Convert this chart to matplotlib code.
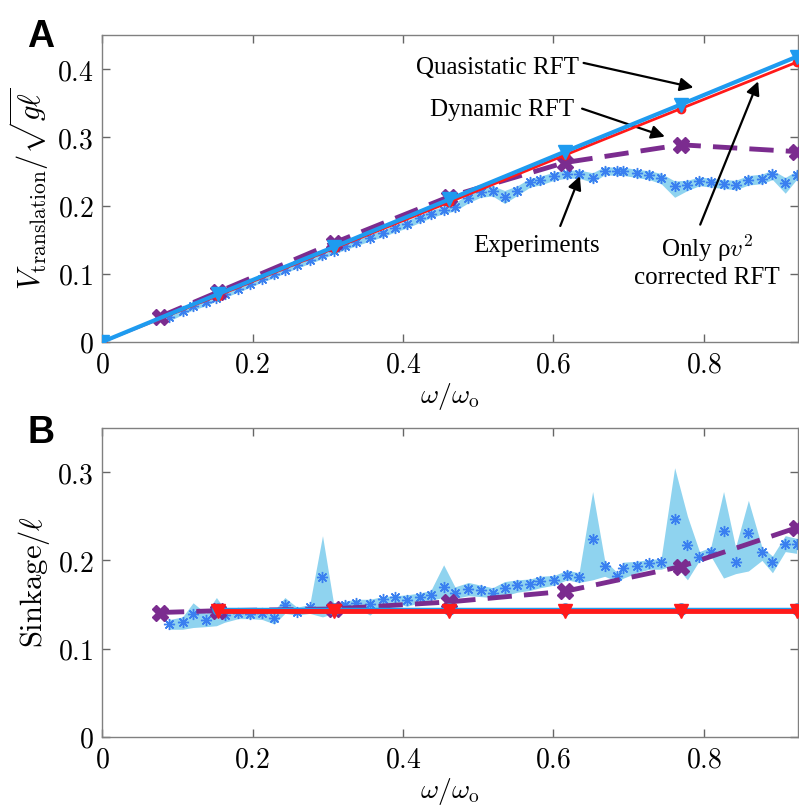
import matplotlib
matplotlib.use('Agg')
import matplotlib.pyplot as plt
from matplotlib.ticker import FuncFormatter

plt.rcParams['mathtext.fontset'] = 'cm'

# model points (omega / omega_o)
w_model = [0.0, 0.1538, 0.3077, 0.4615, 0.6154, 0.7692, 0.9231]
w_dyn = [0.0769, 0.1538, 0.3077, 0.4615, 0.6154, 0.7692, 0.9231]

# panel A: translation speed
v_quasi = [0.0, 0.070, 0.139, 0.209, 0.279, 0.348, 0.418]
v_rho = [0.0, 0.068, 0.137, 0.205, 0.274, 0.342, 0.410]
v_dyn = [0.037, 0.073, 0.145, 0.213, 0.263, 0.289, 0.279]

# panel B: sinkage
w_sink = [0.1538, 0.3077, 0.4615, 0.6154, 0.7692, 0.9231]
s_quasi = [0.1445, 0.1445, 0.1445, 0.1445, 0.1445, 0.1445]
s_rho = [0.143, 0.143, 0.143, 0.143, 0.143, 0.143]
s_dyn = [0.141, 0.143, 0.145, 0.153, 0.165, 0.193, 0.237]

# experiments
w_exp = [0.0895, 0.107, 0.121, 0.138, 0.152, 0.163, 0.181, 0.197, 0.213, 0.229,
         0.243, 0.259, 0.276, 0.293, 0.308, 0.323, 0.338, 0.356, 0.373, 0.389,
         0.405, 0.422, 0.437, 0.454, 0.469, 0.487, 0.503, 0.519, 0.535, 0.552,
         0.569, 0.582, 0.601, 0.618, 0.634, 0.652, 0.668, 0.685, 0.693, 0.711,
         0.727, 0.743, 0.761, 0.778, 0.794, 0.809, 0.826, 0.842, 0.859, 0.877,
         0.891, 0.908, 0.923]
v_exp = [0.036, 0.045, 0.052, 0.058, 0.065, 0.070, 0.078, 0.085, 0.093, 0.099,
         0.106, 0.113, 0.120, 0.127, 0.134, 0.140, 0.146, 0.153, 0.159, 0.167,
         0.173, 0.181, 0.188, 0.194, 0.198, 0.211, 0.220, 0.222, 0.213, 0.222,
         0.234, 0.237, 0.243, 0.246, 0.246, 0.241, 0.251, 0.250, 0.250, 0.247,
         0.245, 0.241, 0.229, 0.230, 0.236, 0.234, 0.232, 0.230, 0.237, 0.239,
         0.246, 0.233, 0.245]
v_exp_lo = [0.031, 0.040, 0.047, 0.053, 0.060, 0.065, 0.073, 0.080, 0.088, 0.094,
            0.101, 0.108, 0.115, 0.122, 0.129, 0.135, 0.141, 0.148, 0.154, 0.161,
            0.167, 0.175, 0.182, 0.188, 0.192, 0.204, 0.212, 0.214, 0.203, 0.215,
            0.227, 0.230, 0.237, 0.240, 0.240, 0.234, 0.245, 0.244, 0.244, 0.241,
            0.238, 0.232, 0.212, 0.222, 0.229, 0.227, 0.225, 0.223, 0.230, 0.232,
            0.238, 0.218, 0.238]
v_exp_hi = [0.041, 0.050, 0.057, 0.063, 0.070, 0.075, 0.083, 0.090, 0.098, 0.104,
            0.111, 0.118, 0.125, 0.132, 0.139, 0.145, 0.151, 0.158, 0.164, 0.172,
            0.178, 0.186, 0.193, 0.199, 0.204, 0.217, 0.226, 0.229, 0.222, 0.229,
            0.240, 0.243, 0.249, 0.252, 0.252, 0.248, 0.257, 0.256, 0.256, 0.253,
            0.251, 0.247, 0.236, 0.237, 0.242, 0.240, 0.238, 0.237, 0.244, 0.246,
            0.252, 0.241, 0.251]
s_exp = [0.128, 0.130, 0.139, 0.133, 0.144, 0.138, 0.141, 0.139, 0.140, 0.135,
         0.150, 0.142, 0.147, 0.181, 0.145, 0.150, 0.152, 0.151, 0.156, 0.158,
         0.155, 0.159, 0.161, 0.170, 0.163, 0.168, 0.166, 0.163, 0.169, 0.172,
         0.173, 0.177, 0.178, 0.184, 0.181, 0.224, 0.194, 0.182, 0.191, 0.194,
         0.197, 0.198, 0.247, 0.217, 0.204, 0.210, 0.233, 0.198, 0.231, 0.209,
         0.198, 0.219, 0.219]
s_exp_lo = [0.122, 0.122, 0.124, 0.125, 0.126, 0.130, 0.134, 0.134, 0.133, 0.128,
            0.140, 0.138, 0.140, 0.136, 0.140, 0.145, 0.147, 0.138, 0.150, 0.152,
            0.148, 0.152, 0.155, 0.158, 0.157, 0.160, 0.159, 0.158, 0.160, 0.164,
            0.166, 0.169, 0.172, 0.178, 0.175, 0.178, 0.182, 0.176, 0.180, 0.186,
            0.190, 0.190, 0.195, 0.178, 0.200, 0.205, 0.180, 0.185, 0.188, 0.200,
            0.186, 0.210, 0.208]
s_exp_hi = [0.133, 0.136, 0.152, 0.140, 0.158, 0.145, 0.146, 0.145, 0.146, 0.143,
            0.158, 0.147, 0.150, 0.228, 0.150, 0.154, 0.156, 0.156, 0.159, 0.160,
            0.161, 0.163, 0.166, 0.195, 0.170, 0.175, 0.172, 0.169, 0.176, 0.178,
            0.179, 0.182, 0.183, 0.189, 0.186, 0.278, 0.200, 0.186, 0.198, 0.199,
            0.201, 0.202, 0.305, 0.250, 0.210, 0.215, 0.278, 0.215, 0.268, 0.215,
            0.205, 0.228, 0.225]

c_quasi = '#1E9BF0'
c_rho = '#FF1A1A'
c_dyn = '#7B2C8F'
c_exp = '#3A7FF0'
c_band = '#8FD3EF'
asterisk = (8, 2, 0)
dashes = (0, (5, 2.5))

fig = plt.figure(figsize=(7.99, 8.09), dpi=100)
axA = fig.add_axes([0.1277, 0.5773, 0.8711, 0.3795])
axB = fig.add_axes([0.1277, 0.0890, 0.8711, 0.3820])

fmt = FuncFormatter(lambda v, p: f'${v:g}$')
for ax in (axA, axB):
    ax.set_xlim(0, 0.925)
    ax.set_xticks([0, 0.2, 0.4, 0.6, 0.8])
    ax.xaxis.set_major_formatter(fmt)
    ax.yaxis.set_major_formatter(fmt)
    ax.tick_params(direction='in', top=True, right=True, length=6,
                   width=1, color='#666666', labelsize=20, pad=6)
    for sp in ax.spines.values():
        sp.set_color('#808080')
        sp.set_linewidth(1)
    ax.set_xlabel(r'$\omega/\omega_\mathrm{o}$', fontsize=20, labelpad=2)

# panel A
axA.set_ylim(0, 0.45)
axA.set_yticks([0, 0.1, 0.2, 0.3, 0.4])
axA.fill_between(w_exp, v_exp_lo, v_exp_hi, color=c_band, lw=0, zorder=1)
axA.plot(w_exp, v_exp, ls='none', marker=asterisk, ms=8, mew=1, color=c_exp, zorder=2)
axA.plot(w_dyn, v_dyn, ls=dashes, lw=3.5, color=c_dyn, marker='X', ms=11, zorder=3)
axA.plot(w_model, v_rho, lw=2, color=c_rho, marker='o', ms=6, zorder=4)
axA.plot(w_model, v_quasi, lw=3, color=c_quasi, marker='v', ms=10, zorder=5)
axA.set_ylabel(r'$V_{\mathrm{translation}}/\sqrt{g\ell}$', fontsize=22, labelpad=4)

arrow = dict(arrowstyle='-|>', color='black', lw=1.6, mutation_scale=20,
             shrinkA=0, shrinkB=0)
txt = dict(fontsize=18, family='Liberation Serif', ha='center', va='center')
axA.text(0.525, 0.402, 'Quasistatic RFT', **txt)
axA.annotate('', xy=(0.786, 0.373), xytext=(0.640, 0.409), arrowprops=arrow)
axA.text(0.532, 0.340, 'Dynamic RFT', **txt)
axA.annotate('', xy=(0.748, 0.301), xytext=(0.638, 0.342), arrowprops=arrow)
axA.text(0.578, 0.141, 'Experiments', **txt)
axA.annotate('', xy=(0.635, 0.243), xytext=(0.609, 0.170), arrowprops=arrow)
axA.text(0.804, 0.118, 'Only ρ$v^2$\ncorrected RFT', linespacing=1.2, **txt)
axA.annotate('', xy=(0.872, 0.382), xytext=(0.795, 0.172), arrowprops=arrow)

# panel B
axB.set_ylim(0, 0.35)
axB.set_yticks([0, 0.1, 0.2, 0.3])
axB.fill_between(w_exp, s_exp_lo, s_exp_hi, color=c_band, lw=0, zorder=1)
axB.plot(w_exp, s_exp, ls='none', marker=asterisk, ms=8, mew=1, color=c_exp, zorder=2)
axB.plot(w_dyn, s_dyn, ls=dashes, lw=3.5, color=c_dyn, marker='X', ms=11, zorder=3)
axB.plot(w_sink, s_quasi, lw=2.5, color=c_quasi, marker='o', ms=8, zorder=4)
axB.plot(w_sink, s_rho, lw=3.5, color=c_rho, marker='v', ms=10, zorder=5)
axB.set_ylabel(r'$\mathrm{Sinkage}/\ell$', fontsize=22, labelpad=4)

fig.text(0.034, 0.977, 'A', fontsize=27, fontweight='bold', family='Liberation Sans',
         ha='left', va='top')
fig.text(0.034, 0.487, 'B', fontsize=27, fontweight='bold', family='Liberation Sans',
         ha='left', va='top')

fig.savefig('out.png', dpi=100)
